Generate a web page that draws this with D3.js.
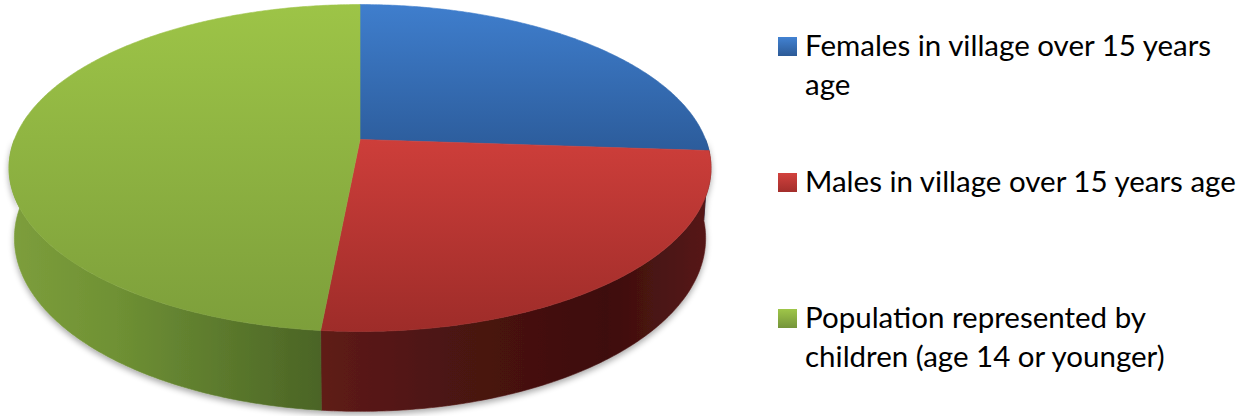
<!DOCTYPE html>
<html><head><meta charset="utf-8">
<script src="https://cdn.jsdelivr.net/npm/d3@7"></script>
<style>html,body{margin:0;padding:0;background:#fff;}svg{display:block;}</style>
</head><body>
<svg id="chart" width="1248" height="416"></svg>
<script>
const categories = ["Females in village over 15 years age", "Males in village over 15 years age", "Population represented by children (age 14 or younger)"];
const values = [26.1, 25.4, 48.5];
const legendLines = [["Females in village over 15 years", "age"], ["Males in village over 15 years age"], ["Population represented by", "children (age 14 or younger)"]];
const topColors = [["#3f7ecd", "#2c5c9b"], ["#cd3e3a", "#9e2c29"], ["#9dc447", "#7d9f3b"]];
const keyColors = [["#4282d2", "#2c5a96"], ["#d2423e", "#a32e2b"], ["#9fc649", "#74943a"]];

const svg = d3.select("#chart");
const defs = svg.append("defs");

// perspective projection of the pie disc
const X0 = 360, Y0 = 139.5, A = 345.6, B = 158.5, K = -0.1744, M = 0.015, D = 70;
function proj(theta, h) {
  const u = Math.sin(theta), v = -Math.cos(theta);
  const den = 1 + K * v + M * h;
  return [X0 + A * u / den, Y0 + (B * v + D * h) / den];
}
const pie = d3.pie().sort(null).value(d => d).startAngle(0).endAngle(2 * Math.PI);
const arcs = pie(values);
const line = d3.line();

function arcPts(a0, a1, h) {
  const n = Math.max(2, Math.ceil((a1 - a0) / 0.01));
  return d3.range(n + 1).map(i => proj(a0 + (a1 - a0) * i / n, h));
}

// gradients
topColors.forEach((c, i) => {
  const a = arcs[i];
  const pts = arcPts(a.startAngle, a.endAngle, 0).concat([[X0, Y0]]);
  const ys = d3.extent(pts, p => p[1]);
  const g = defs.append("linearGradient").attr("id", "top" + i)
    .attr("gradientUnits", "userSpaceOnUse").attr("x1", 0).attr("x2", 0)
    .attr("y1", ys[0]).attr("y2", ys[1]);
  g.append("stop").attr("offset", 0).attr("stop-color", c[0]);
  g.append("stop").attr("offset", 1).attr("stop-color", c[1]);
});
keyColors.forEach((c, i) => {
  const g = defs.append("linearGradient").attr("id", "key" + i)
    .attr("x1", 0).attr("x2", 0).attr("y1", 0).attr("y2", 1);
  g.append("stop").attr("offset", 0).attr("stop-color", c[0]);
  g.append("stop").attr("offset", 1).attr("stop-color", c[1]);
});
const sideStops = [
  [[0, "#7d9e3c"], [0.15, "#6f9134"], [0.3, "#5c7a2d"], [0.45, "#4a6325"]],
  [[0.45, "#5e1b19"], [0.62, "#4c1412"], [0.85, "#3e0e0d"], [1, "#571918"]],
  [[0, "#2a5088"], [1, "#1e3a66"]]
];
const sideIdx = [2, 1, 0];
sideStops.forEach((st, j) => {
  const g = defs.append("linearGradient").attr("id", "side" + sideIdx[j])
    .attr("gradientUnits", "userSpaceOnUse").attr("x1", 10).attr("x2", 712).attr("y1", 0).attr("y2", 0);
  st.forEach(s => g.append("stop").attr("offset", s[0]).attr("stop-color", s[1]));
});
const f = defs.append("filter").attr("id", "shadow").attr("x", "-10%").attr("y", "-10%").attr("width", "120%").attr("height", "130%");
f.append("feGaussianBlur").attr("in", "SourceAlpha").attr("stdDeviation", 3).attr("result", "b");
f.append("feOffset").attr("in", "b").attr("dx", 0).attr("dy", 3).attr("result", "o");
f.append("feComponentTransfer").attr("in", "o").attr("result", "s")
  .append("feFuncA").attr("type", "linear").attr("slope", 0.35);
const fm = f.append("feMerge");
fm.append("feMergeNode").attr("in", "s");
fm.append("feMergeNode").attr("in", "SourceGraphic");

// side walls (front half only)
const sideG = svg.append("g").attr("filter", "url(#shadow)");
arcs.forEach((a, i) => {
  const s = Math.max(a.startAngle, Math.PI / 2), e = Math.min(a.endAngle, 3 * Math.PI / 2);
  if (e <= s) return;
  const pts = arcPts(s, e, 0).concat(arcPts(s, e, 1).reverse());
  sideG.append("path").attr("d", line(pts) + "Z").attr("fill", "url(#side" + i + ")")
    .attr("stroke", "url(#side" + i + ")").attr("stroke-width", 0.6);
});

// top faces
const topG = svg.append("g");
arcs.forEach((a, i) => {
  const pts = [[X0, Y0]].concat(arcPts(a.startAngle, a.endAngle, 0));
  topG.append("path").attr("d", line(pts) + "Z").attr("fill", "url(#top" + i + ")")
    .attr("stroke", "url(#top" + i + ")").attr("stroke-width", 0.6);
});

// legend
const legendY = [56, 192, 328];
const lg = svg.append("g").attr("font-family", "Lato, 'Open Sans', sans-serif").attr("fill", "#000");
let fontSize = 29;
const probe = lg.append("text").attr("font-size", 100).text(legendLines[1][0]);
const w100 = probe.node().getComputedTextLength();
probe.remove();
fontSize = 100 * 431 / w100;
categories.forEach((c, i) => {
  const g = lg.append("g");
  g.append("rect").attr("x", 778).attr("y", legendY[i] - 19).attr("width", 19).attr("height", 19)
    .attr("fill", "url(#key" + i + ")");
  const t = g.append("text").attr("x", 805).attr("y", legendY[i]).attr("font-size", fontSize);
  legendLines[i].forEach((l, k) => {
    t.append("tspan").attr("x", 805).attr("y", legendY[i] + k * 38.5).text(l);
  });
});
</script>
</body></html>
